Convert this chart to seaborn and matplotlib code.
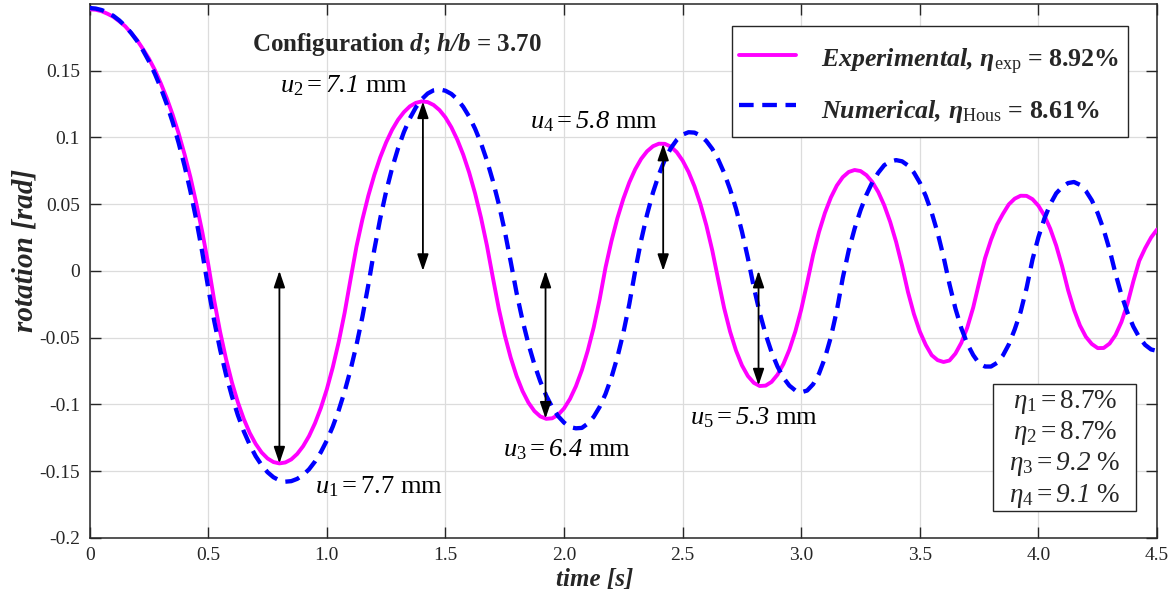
import numpy as np
import pandas as pd
import matplotlib
matplotlib.use("Agg")
import matplotlib.pyplot as plt
from matplotlib.patches import Rectangle
import seaborn as sns

# Free rocking of configuration d: rotation sampled every 0.025 s from 0 to 4.5 s
time_step = 0.025

rotation_exp = [
    0.1960, 0.1957, 0.1946, 0.1927, 0.1904, 0.1870, 0.1833, 0.1782,
    0.1729, 0.1662, 0.1590, 0.1505, 0.1405, 0.1295, 0.1170, 0.1031,
    0.0874, 0.0701, 0.0502, 0.0290, 0.0049, -0.0221, -0.0457, -0.0661,
    -0.0837, -0.0986, -0.1111, -0.1215, -0.1297, -0.1361, -0.1406, -0.1433,
    -0.1443, -0.1436, -0.1413, -0.1372, -0.1314, -0.1238, -0.1142, -0.1026,
    -0.0887, -0.0723, -0.0533, -0.0314, -0.0062, 0.0183, 0.0386, 0.0564,
    0.0718, 0.0851, 0.0963, 0.1057, 0.1132, 0.1190, 0.1233, 0.1259,
    0.1270, 0.1265, 0.1243, 0.1205, 0.1150, 0.1076, 0.0983, 0.0871,
    0.0737, 0.0580, 0.0398, 0.0189, -0.0051, -0.0284, -0.0482, -0.0650,
    -0.0789, -0.0901, -0.0988, -0.1051, -0.1091, -0.1109, -0.1105, -0.1079,
    -0.1031, -0.0960, -0.0865, -0.0745, -0.0598, -0.0424, -0.0215, 0.0026,
    0.0224, 0.0395, 0.0540, 0.0662, 0.0761, 0.0839, 0.0896, 0.0934,
    0.0953, 0.0952, 0.0931, 0.0890, 0.0826, 0.0741, 0.0633, 0.0500,
    0.0341, 0.0153, -0.0066, -0.0279, -0.0455, -0.0597, -0.0708, -0.0788,
    -0.0839, -0.0863, -0.0860, -0.0832, -0.0778, -0.0698, -0.0591, -0.0455,
    -0.0289, -0.0090, 0.0119, 0.0292, 0.0435, 0.0550, 0.0639, 0.0702,
    0.0741, 0.0756, 0.0748, 0.0717, 0.0665, 0.0590, 0.0491, 0.0367,
    0.0217, 0.0039, -0.0158, -0.0323, -0.0455, -0.0555, -0.0632, -0.0669,
    -0.0683, -0.0672, -0.0620, -0.0539, -0.0425, -0.0275, -0.0087, 0.0095,
    0.0232, 0.0345, 0.0426, 0.0498, 0.0541, 0.0563, 0.0562, 0.0537,
    0.0488, 0.0415, 0.0315, 0.0189, 0.0034, -0.0144, -0.0292, -0.0409,
    -0.0494, -0.0548, -0.0579, -0.0578, -0.0545, -0.0481, -0.0383, -0.0249,
    -0.0079, 0.0075, 0.0170, 0.0250, 0.0310,
]

rotation_num = [
    0.1970, 0.1966, 0.1955, 0.1937, 0.1911, 0.1877, 0.1835, 0.1783,
    0.1723, 0.1652, 0.1571, 0.1477, 0.1371, 0.1250, 0.1114, 0.0960,
    0.0788, 0.0595, 0.0379, 0.0137, -0.0129, -0.0374, -0.0590, -0.0778,
    -0.0941, -0.1082, -0.1203, -0.1304, -0.1389, -0.1456, -0.1509, -0.1547,
    -0.1570, -0.1580, -0.1576, -0.1559, -0.1530, -0.1487, -0.1429, -0.1358,
    -0.1271, -0.1167, -0.1045, -0.0904, -0.0741, -0.0555, -0.0344, -0.0104,
    0.0158, 0.0392, 0.0595, 0.0769, 0.0917, 0.1041, 0.1143, 0.1224,
    0.1286, 0.1329, 0.1353, 0.1360, 0.1350, 0.1326, 0.1286, 0.1229,
    0.1156, 0.1065, 0.0956, 0.0826, 0.0674, 0.0500, 0.0299, 0.0070,
    -0.0166, -0.0371, -0.0549, -0.0701, -0.0829, -0.0936, -0.1022, -0.1089,
    -0.1137, -0.1171, -0.1180, -0.1177, -0.1145, -0.1094, -0.1020, -0.0922,
    -0.0798, -0.0646, -0.0465, -0.0250, 0.0000, 0.0228, 0.0422, 0.0587,
    0.0723, 0.0833, 0.0919, 0.0981, 0.1021, 0.1039, 0.1036, 0.1014,
    0.0973, 0.0914, 0.0834, 0.0734, 0.0611, 0.0466, 0.0295, 0.0097,
    -0.0122, -0.0314, -0.0476, -0.0610, -0.0717, -0.0801, -0.0860, -0.0896,
    -0.0910, -0.0897, -0.0850, -0.0770, -0.0652, -0.0496, -0.0298, -0.0054,
    0.0151, 0.0316, 0.0455, 0.0571, 0.0665, 0.0736, 0.0792, 0.0819,
    0.0830, 0.0821, 0.0790, 0.0737, 0.0661, 0.0561, 0.0436, 0.0285,
    0.0105, -0.0100, -0.0282, -0.0430, -0.0546, -0.0631, -0.0694, -0.0717,
    -0.0717, -0.0690, -0.0635, -0.0552, -0.0439, -0.0307, -0.0129, 0.0085,
    0.0253, 0.0391, 0.0500, 0.0581, 0.0628, 0.0658, 0.0666, 0.0645,
    0.0599, 0.0529, 0.0432, 0.0309, 0.0158, -0.0021, -0.0180, -0.0311,
    -0.0417, -0.0498, -0.0555, -0.0589, -0.0600,
]

time_s = np.round(np.arange(len(rotation_exp)) * time_step, 3)

x_ticks = [0, 0.5, 1.0, 1.5, 2.0, 2.5, 3.0, 3.5, 4.0, 4.5]
x_tick_labels = ["0", "0.5", "1.0", "1.5", "2.0", "2.5", "3.0", "3.5", "4.0", "4.5"]
y_ticks = [-0.2, -0.15, -0.1, -0.05, 0, 0.05, 0.1, 0.15]
y_tick_labels = ["-0.2", "-0.15", "-0.1", "-0.05", "0", "0.05", "0.1", "0.15"]

# amplitude arrows (time of each extreme) and their captions;
# \mathsf is mapped to the italic serif face so that numbers can be slanted
arrow_times = [0.80, 1.405, 1.922, 2.418, 2.82]
amp_labels = [
    r"$u_1 = 7.7$ mm",
    r"$u_2 = \mathsf{7.1}$ mm",
    r"$u_3 = \mathsf{6.4}$ mm",
    r"$u_4 = \mathsf{5.8}$ mm",
    r"$u_5 = \mathsf{5.3}$ mm",
]
amp_label_pos = [(0.950, -0.1668), (0.802, 0.134), (1.742, -0.139),
                 (1.856, 0.107), (2.531, -0.115)]

eta_labels = [
    r"$\eta_1 = 8.7$%",
    r"$\eta_2 = 8.7$%",
    r"$\eta_3 = \mathsf{9.2}$ %",
    r"$\eta_4 = \mathsf{9.1}$ %",
]

legend_labels = [
    r"$\mathbfit{Experimental,}\,\mathbfit{\eta}_{\mathrm{exp}}$ = 8.92%",
    r"$\mathbfit{Numerical,}\,\mathbfit{\eta}_{\mathrm{Hous}}$ = 8.61%",
]

df = pd.DataFrame({"time": time_s, "exp": rotation_exp, "num": rotation_num})

sns.set_style("ticks")
plt.rcParams["font.family"] = ["Liberation Serif", "DejaVu Serif"]
plt.rcParams["mathtext.fontset"] = "custom"
plt.rcParams["mathtext.rm"] = "Liberation Serif"
plt.rcParams["mathtext.it"] = "Liberation Serif:italic"
plt.rcParams["mathtext.sf"] = "Liberation Serif:italic"
plt.rcParams["mathtext.bf"] = "Liberation Serif:bold"
plt.rcParams["mathtext.bfit"] = "Liberation Serif:italic:bold"

ink = "#262626"

fig = plt.figure(figsize=(11.75, 5.97), dpi=100)
ax = fig.add_axes([0.0763, 0.0993, 0.9084, 0.894])

sns.lineplot(data=df, x="time", y="exp", ax=ax, color="#ff00ff", lw=2.8,
             legend=False, zorder=3)
sns.lineplot(data=df, x="time", y="num", ax=ax, color="#0000ff", lw=3.1,
             legend=False, zorder=4)
line_exp, line_num = ax.lines[0], ax.lines[1]
line_num.set_dashes((3.4, 2.0))

ax.set_xlim(0, 4.5)
ax.set_ylim(-0.2, 0.2)
ax.set_xticks(x_ticks)
ax.set_xticklabels(x_tick_labels)
ax.set_yticks(y_ticks)
ax.set_yticklabels(y_tick_labels)
ax.tick_params(direction="in", length=8, width=1.0, top=True, right=True,
               labelsize=14, pad=7, color=ink, labelcolor=ink)
for sp in ax.spines.values():
    sp.set_linewidth(1.1)
    sp.set_color(ink)
ax.grid(True, color="#dcdcdc", lw=0.9)
ax.set_axisbelow(True)

ax.set_xlabel("time [s]", fontsize=18, fontweight="bold", style="italic",
              va="center")
ax.xaxis.set_label_coords(0.4734, -0.079)
ax.set_ylabel("rotation [rad]", fontsize=21, fontweight="bold", style="italic",
              va="center")
ax.yaxis.set_label_coords(-0.0606, 0.539)

# double arrows from the zero line to each experimental extreme
for t in arrow_times:
    peak = float(np.interp(t, df["time"], df["exp"]))
    ax.annotate("", xy=(t, peak), xytext=(t, 0.0),
                arrowprops=dict(arrowstyle="<|-|>,head_length=0.5,head_width=0.17",
                                color="black", lw=1.3, shrinkA=0, shrinkB=0,
                                mutation_scale=20), zorder=5)

for (tx, ty), lab in zip(amp_label_pos, amp_labels):
    ax.text(tx, ty, lab, fontsize=19, ha="left", va="baseline", color="black",
            zorder=6)

ax.text(0.685, 0.1648, r"Configuration $\mathbfit{d}$; $\mathbfit{h/b}$ = 3.70",
        fontsize=18, fontweight="bold", ha="left", va="baseline", zorder=6)

# legend: framed box drawn separately so its size follows the layout
ax.add_patch(Rectangle((0.6015, 0.7502), 0.9731 - 0.6015, 0.9588 - 0.7502,
                       transform=ax.transAxes, facecolor="white", edgecolor=ink,
                       lw=1.0, zorder=7))
leg = ax.legend([line_exp, line_num], legend_labels, loc="center",
                bbox_to_anchor=(0.7864, 0.8500), borderaxespad=0, borderpad=0,
                prop={"family": "Liberation Serif", "weight": "bold", "size": 18.6},
                frameon=False, handlelength=2.2, handleheight=1.6,
                handletextpad=0.95, labelspacing=0.6)
leg.set_zorder(8)

# damping ratios box
ax.add_patch(Rectangle((0.8466, 0.05), 0.9803 - 0.8466, 0.2874 - 0.05,
                       transform=ax.transAxes, facecolor="white", edgecolor=ink,
                       lw=1.0, zorder=7))
for yb, lab in zip([0.2425, 0.1844, 0.1261, 0.0667], eta_labels):
    ax.text(0.9138, yb, lab, transform=ax.transAxes, fontsize=19.5, ha="center",
            va="baseline", zorder=8)

fig.savefig("out.png", dpi=100)
